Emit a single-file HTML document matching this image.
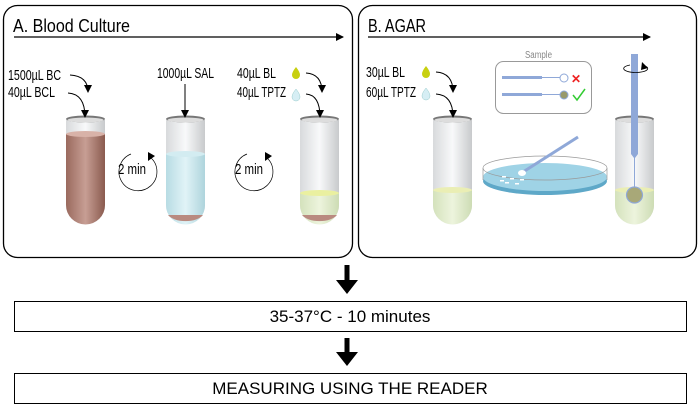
<!DOCTYPE html>
<html><head><meta charset="utf-8"><style>
html,body{margin:0;padding:0;background:#fff;width:700px;height:409px;overflow:hidden}
text{font-family:"Liberation Sans",sans-serif}
</style></head><body>
<svg width="700" height="409" viewBox="0 0 700 409" xmlns="http://www.w3.org/2000/svg">
<defs>
<marker id="ah" markerWidth="8" markerHeight="8" refX="7" refY="4" orient="auto" markerUnits="userSpaceOnUse"><path d="M0,0 L8,4 L0,8 Z" fill="#000"/></marker>
<linearGradient id="glass" x1="0" x2="1"><stop offset="0" stop-color="#d8dadc"/><stop offset="0.5" stop-color="#f8f9fa"/><stop offset="1" stop-color="#c8cacc"/></linearGradient>
<linearGradient id="blood" x1="0" x2="1"><stop offset="0" stop-color="#9a6a5e"/><stop offset="0.5" stop-color="#c79e94"/><stop offset="1" stop-color="#8a5a4e"/></linearGradient>
<linearGradient id="sal" x1="0" x2="1"><stop offset="0" stop-color="#b8dce4"/><stop offset="0.5" stop-color="#e0f3f7"/><stop offset="1" stop-color="#aed4dc"/></linearGradient>
<linearGradient id="grn" x1="0" x2="1"><stop offset="0" stop-color="#d4e2bc"/><stop offset="0.5" stop-color="#edf4dd"/><stop offset="1" stop-color="#cddcb4"/></linearGradient>
</defs>
<rect x="3.5" y="5.5" width="349" height="252" rx="14" fill="none" stroke="#000" stroke-width="1.3"/>
<rect x="358.5" y="5.5" width="338" height="252" rx="14" fill="none" stroke="#000" stroke-width="1.3"/>
<text x="13" y="32" font-size="18" textLength="117" lengthAdjust="spacingAndGlyphs">A. Blood Culture</text>
<line x1="14" y1="37" x2="343" y2="37" stroke="#000" stroke-width="1.2" marker-end="url(#ah)"/>
<text x="368" y="32" font-size="18" textLength="58" lengthAdjust="spacingAndGlyphs">B. AGAR</text>
<line x1="368" y1="37" x2="650" y2="37" stroke="#000" stroke-width="1.2" marker-end="url(#ah)"/>

<g>
<path d="M66,120 V205 A19.5,19.5 0 0 0 105,205 V120 Z" fill="url(#glass)"/>
<path d="M66,134 V205 A19.5,19.5 0 0 0 105,205 V134 Z" fill="url(#blood)"/>
<ellipse cx="85.5" cy="134" rx="19.5" ry="3" fill="#d8b2a8"/>
<ellipse cx="85.5" cy="119" rx="19.5" ry="3.5" fill="#777" /><ellipse cx="85.5" cy="120" rx="18" ry="2.5" fill="#ddd"/>
</g>
<g>
<path d="M166,120 V205 A19.5,19.5 0 0 0 205,205 V120 Z" fill="url(#glass)"/>
<path d="M166,154 V205 A19.5,19.5 0 0 0 205,205 V154 Z" fill="url(#sal)"/>
<path d="M168,215 A19,10 0 0 0 203,215 Z" fill="#b98a80"/>
<ellipse cx="185.5" cy="154" rx="19.5" ry="3" fill="#d3ecf1"/>
<ellipse cx="185.5" cy="119" rx="19.5" ry="3.5" fill="#777"/><ellipse cx="185.5" cy="120" rx="18" ry="2.5" fill="#ddd"/>
</g>
<g>
<path d="M300,120 V205 A19.5,19.5 0 0 0 339,205 V120 Z" fill="url(#glass)"/>
<path d="M300,193 V205 A19.5,19.5 0 0 0 339,205 V193 Z" fill="url(#grn)"/>
<path d="M302,215 A19,10 0 0 0 337,215 Z" fill="#b98a80"/>
<ellipse cx="319.5" cy="193" rx="19.5" ry="3" fill="#eaf0a0"/>
<ellipse cx="319.5" cy="119" rx="19.5" ry="3.5" fill="#777"/><ellipse cx="319.5" cy="120" rx="18" ry="2.5" fill="#ddd"/>
</g>
<g>
<path d="M433,120 V205 A19.5,19.5 0 0 0 472,205 V120 Z" fill="url(#glass)"/>
<path d="M433,190 V205 A19.5,19.5 0 0 0 472,205 V190 Z" fill="url(#grn)"/>
<ellipse cx="452.5" cy="190" rx="19.5" ry="3" fill="#eaeeb4"/>
<ellipse cx="452.5" cy="119" rx="19.5" ry="3.5" fill="#777"/><ellipse cx="452.5" cy="120" rx="18" ry="2.5" fill="#ddd"/>
</g>
<g>
<path d="M615,120 V205 A19.5,19.5 0 0 0 654,205 V120 Z" fill="url(#glass)"/>
<path d="M615,190 V205 A19.5,19.5 0 0 0 654,205 V190 Z" fill="url(#grn)"/>
<ellipse cx="634.5" cy="190" rx="19.5" ry="3" fill="#eaeeb4"/>
<ellipse cx="634.5" cy="119" rx="19.5" ry="3.5" fill="#777"/><ellipse cx="634.5" cy="120" rx="18" ry="2.5" fill="#ddd"/>
<rect x="631" y="54" width="7" height="100" fill="#8fa8d8"/>
<path d="M631,154 L634,158 V188 h1 V158 L638,154 Z" fill="#8fa8d8"/>
<circle cx="634.5" cy="195" r="8" fill="#a8a878" stroke="#8fa8d8" stroke-width="1.2"/>
<path d="M630,65 A12,4 0 1 0 645,66" fill="none" stroke="#000" stroke-width="0.8"/>
<path d="M642,62 L648,68 L641,70 Z" fill="#000"/>
</g>

<g font-size="15">
<text x="8" y="80" textLength="53" lengthAdjust="spacingAndGlyphs">1500µL BC</text>
<text x="8" y="97" textLength="47" lengthAdjust="spacingAndGlyphs">40µL BCL</text>
<text x="157" y="78" textLength="57" lengthAdjust="spacingAndGlyphs">1000µL SAL</text>
<text x="237" y="78" textLength="39" lengthAdjust="spacingAndGlyphs">40µL BL</text>
<text x="237" y="97" textLength="49" lengthAdjust="spacingAndGlyphs">40µL TPTZ</text>
<text x="366" y="77" textLength="39" lengthAdjust="spacingAndGlyphs">30µL BL</text>
<text x="366" y="97" textLength="50" lengthAdjust="spacingAndGlyphs">60µL TPTZ</text>
</g>
<g fill="none" stroke="#000" stroke-width="1">
<path d="M70,75 Q88,76 88,92" marker-end="url(#ah)"/>
<path d="M68,93 Q85,94 85,117" marker-end="url(#ah)"/>
<path d="M185,84 V117" marker-end="url(#ah)"/>
<path d="M306,73 Q322,74 322,92" marker-end="url(#ah)"/>
<path d="M306,94 Q320,95 320,117" marker-end="url(#ah)"/>
<path d="M436,72 Q453,73 453,92" marker-end="url(#ah)"/>
<path d="M436,94 Q453,95 453,117" marker-end="url(#ah)"/>
</g>
<path d="M296,67 Q300,72 300,75 A4,4 0 0 1 292,75 Q292,72 296,67Z" fill="#c8d010"/>
<path d="M296,89 Q300,94 300,97 A4,4 0 0 1 292,97 Q292,94 296,89Z" fill="#d6eef4" stroke="#9cc" stroke-width="0.5"/>
<path d="M426,66 Q430,71 430,74 A4,4 0 0 1 422,74 Q422,71 426,66Z" fill="#c8d010"/>
<path d="M426,88 Q430,93 430,96 A4,4 0 0 1 422,96 Q422,93 426,88Z" fill="#d6eef4" stroke="#9cc" stroke-width="0.5"/>

<g fill="none" stroke="#000" stroke-width="0.7">
<path d="M150,157 A19,19 0 1 1 131,154"/>
<path d="M266,157 A19,19 0 1 1 247,154"/>
</g>
<path d="M148,152 L155,156 L148,161Z" fill="#000"/>
<path d="M265,152 L272,156 L265,161Z" fill="#000"/>
<text x="118" y="174" font-size="15" textLength="28" lengthAdjust="spacingAndGlyphs">2 min</text>
<text x="235" y="174" font-size="15" textLength="28" lengthAdjust="spacingAndGlyphs">2 min</text>

<text x="525" y="58" font-size="10" fill="#888" textLength="27" lengthAdjust="spacingAndGlyphs">Sample</text>
<rect x="495.5" y="61.5" width="96" height="52" rx="8" fill="none" stroke="#999"/>
<rect x="502" y="76" width="40" height="3" fill="#8fa8d8"/><line x1="542" y1="77.5" x2="560" y2="77.5" stroke="#8fa8d8"/>
<circle cx="564" cy="78" r="4" fill="#fff" stroke="#8fa8d8"/>
<text x="571" y="83" font-size="12" fill="#e22" font-weight="bold">✕</text>
<rect x="502" y="93" width="40" height="3" fill="#8fa8d8"/><line x1="542" y1="94.5" x2="560" y2="94.5" stroke="#8fa8d8"/>
<circle cx="564" cy="95" r="4" fill="#999a6a" stroke="#8fa8d8"/>
<path d="M573,95 L577,100 L585,89" fill="none" stroke="#3c3" stroke-width="1.5"/>

<ellipse cx="545" cy="181" rx="62" ry="14" fill="#5ea8c8"/>
<ellipse cx="545" cy="177" rx="62" ry="14" fill="#9fd3e6"/>
<ellipse cx="545" cy="168" rx="62" ry="12" fill="none" stroke="#999" stroke-width="0.7"/>
<line x1="483" y1="168" x2="483" y2="180" stroke="#999" stroke-width="0.7"/>
<line x1="607" y1="168" x2="607" y2="180" stroke="#999" stroke-width="0.7"/>
<g fill="#fff"><rect x="502" y="176" width="4" height="1.5"/><rect x="510" y="178" width="4" height="1.5"/><rect x="505" y="182" width="4" height="1.5"/><rect x="515" y="183" width="4" height="1.5"/><rect x="500" y="180" width="4" height="1.5"/><rect x="520" y="179" width="4" height="1.5"/></g>
<line x1="523" y1="172" x2="578" y2="137" stroke="#8fa8d8" stroke-width="3"/>
<ellipse cx="522" cy="173" rx="4" ry="3" fill="#fff"/>

<line x1="347" y1="265" x2="347" y2="285" stroke="#000" stroke-width="5"/>
<path d="M336,280 L358,280 L347,294Z" fill="#000"/>
<rect x="14.5" y="301.5" width="672" height="30" fill="#fff" stroke="#000"/>
<text x="350" y="322" font-size="17" text-anchor="middle">35-37°C - 10 minutes</text>
<line x1="347" y1="338" x2="347" y2="357" stroke="#000" stroke-width="5"/>
<path d="M336,352 L358,352 L347,366Z" fill="#000"/>
<rect x="14.5" y="373.5" width="672" height="30" fill="#fff" stroke="#000"/>
<text x="350" y="394" font-size="17" text-anchor="middle">MEASURING USING THE READER</text>
</svg>
</body></html>
